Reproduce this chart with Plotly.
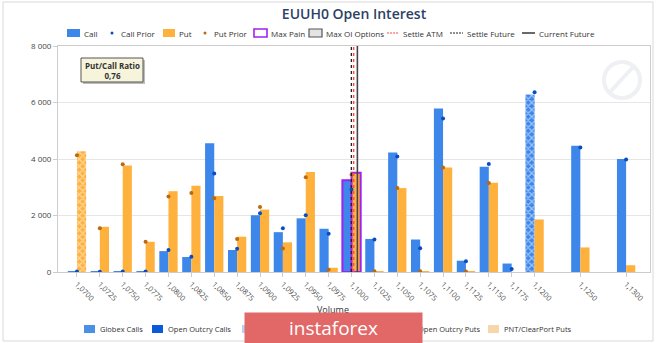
import plotly.graph_objects as go

# ---- data -------------------------------------------------------------
strikes = [1.0700, 1.0725, 1.0750, 1.0775, 1.0800, 1.0825, 1.0850, 1.0875,
           1.0900, 1.0925, 1.0950, 1.0975, 1.1000, 1.1025, 1.1050, 1.1075,
           1.1100, 1.1125, 1.1150, 1.1175, 1.1200, 1.1250, 1.1300]
strike_labels = ["1,0700", "1,0725", "1,0750", "1,0775", "1,0800", "1,0825",
                 "1,0850", "1,0875", "1,0900", "1,0925", "1,0950", "1,0975",
                 "1,1000", "1,1025", "1,1050", "1,1075", "1,1100", "1,1125",
                 "1,1150", "1,1175", "1,1200", "1,1250", "1,1300"]

call_oi = [30, 15, 20, 25, 740, 530, 4560, 780, 2010, 1410, 1900, 1530,
           3250, 1170, 4230, 1150, 5790, 400, 3730, 300, 6280, 4470, 4000]
call_prior = [20, 10, 15, 20, 775, 540, 3490, 820, 2080, 1550, 2010, 1350,
              2920, 1150, 4090, 840, 5430, 380, 3820, 110, 6360, 4410, 3980]
put_oi = [4270, 1600, 3770, 1070, 2860, 3050, 2690, 1250, 2210, 1050, 3540,
          150, 3510, 35, 2970, 35, 3700, 25, 3160, 0, 1860, 870, 240]
put_prior = [4130, 1550, 3810, 1070, 2670, 2800, 2610, 1170, 2300, 835, 3350,
             80, 3440, 25, 2970, 30, 3700, 20, 3150, None, None, None, None]

max_pain = 1.1000
settle_atm = 1.10023
settle_future = 1.09998
current_future = 1.10064
put_call_ratio = "0,76"

y_ticks = [0, 2000, 4000, 6000, 8000]
y_tick_labels = ["0", "2 000", "4 000", "6 000", "8 000"]

# ---- styles -----------------------------------------------------------
CALL = "#3d87ea"
PUT = "#ffb13d"
CALL_DOT = "#0a4cc2"
PUT_DOT = "#b86a10"
PURPLE = "#a020f0"
FONT = "Open Sans"
TXT = "#333333"

max_call = max(call_oi)
max_put = max(put_oi)


def pattern_for(values, top):
    return [("x" if v == top else "") for v in values]


def outline_color(xs):
    return [PURPLE if x == max_pain else "rgba(0,0,0,0)" for x in xs]


def outline_width(xs):
    return [2 if x == max_pain else 0 for x in xs]


fig = go.Figure()
fig.add_trace(go.Bar(
    x=strikes, y=call_oi, name="Call", offsetgroup="c",
    marker=dict(color=CALL,
                line=dict(color=outline_color(strikes), width=outline_width(strikes)),
                pattern=dict(shape=pattern_for(call_oi, max_call), fgcolor="white",
                             bgcolor=CALL, size=5, solidity=0.45)),
))
fig.add_trace(go.Bar(
    x=strikes, y=put_oi, name="Put", offsetgroup="p",
    marker=dict(color=PUT,
                line=dict(color=outline_color(strikes), width=outline_width(strikes)),
                pattern=dict(shape=pattern_for(put_oi, max_put), fgcolor="white",
                             bgcolor=PUT, size=5, solidity=0.45)),
))
fig.add_trace(go.Scatter(
    x=strikes, y=call_prior, mode="markers", name="Call Prior",
    marker=dict(color=CALL_DOT, size=4),
))
fig.add_trace(go.Scatter(
    x=strikes, y=put_prior, mode="markers", name="Put Prior",
    marker=dict(color=PUT_DOT, size=4),
))

# plot area in pixels
W, H = 665, 343
L, R, T, B = 58, 650, 46, 272


def px(x):
    return (x - L) / (R - L)


def py(y):
    return (B - y) / (B - T)


shapes = []
annotations = []

# vertical reference lines
for xv, col, dash, wid in [(settle_future, "#222222", "dot", 1.3),
                           (settle_atm, "#ff4a4a", "dot", 1.5),
                           (current_future, "#444444", "solid", 1.6)]:
    shapes.append(dict(type="line", xref="x", yref="paper", x0=xv, x1=xv,
                       y0=0, y1=1, line=dict(color=col, dash=dash, width=wid),
                       layer="above"))


def rect(x0, y0, x1, y1, fill, line_col=None, lw=0):
    shapes.append(dict(type="rect", xref="paper", yref="paper",
                       x0=px(x0), x1=px(x1), y0=py(y1), y1=py(y0),
                       fillcolor=fill,
                       line=dict(color=line_col or fill, width=lw)))


def label(x, y, text, size=8, color=TXT, anchor="left", **kw):
    annotations.append(dict(xref="paper", yref="paper", x=px(x), y=py(y),
                            text=text, showarrow=False, xanchor=anchor,
                            yanchor="middle", font=dict(family=FONT, size=size,
                                                        color=color), **kw))


def hline(x0, x1, y, col, dash, wid):
    shapes.append(dict(type="line", xref="paper", yref="paper",
                       x0=px(x0), x1=px(x1), y0=py(y), y1=py(y),
                       line=dict(color=col, dash=dash, width=wid)))


def dot(x, y, col):
    shapes.append(dict(type="circle", xref="paper", yref="paper",
                       x0=px(x - 1.5), x1=px(x + 1.5), y0=py(y + 1.5),
                       y1=py(y - 1.5), fillcolor=col, line=dict(width=0)))


# outer frame
rect(3, 2, 653, 341, "rgba(0,0,0,0)", "#d9d9d9", 1)

# faint watermark emblem in the corner
shapes.append(dict(type="circle", xref="paper", yref="paper",
                   x0=px(604), x1=px(640), y0=py(98), y1=py(62),
                   line=dict(color="#eef0f3", width=4)))
shapes.append(dict(type="line", xref="paper", yref="paper",
                   x0=px(610), x1=px(634), y0=py(92), y1=py(66),
                   line=dict(color="#eef0f3", width=4)))

# top legend
ly = 33
rect(67, ly - 4, 80, ly + 4, CALL)
label(82, ly, "Call")
dot(112, ly, CALL_DOT)
label(119, ly, "Call Prior")
rect(163, ly - 4, 175, ly + 4, PUT)
label(177, ly, "Put")
dot(205, ly, PUT_DOT)
label(212, ly, "Put Prior")
rect(254, ly - 4, 267, ly + 4, "white", PURPLE, 1.6)
label(269, ly, "Max Pain")
rect(309, ly - 4, 322, ly + 4, "#e4e4e4", "#555555", 1.2)
label(324, ly, "Max OI Options")
hline(387, 399, ly, "#ff4a4a", "2px,1px", 1.2)
label(401, ly, "Settle ATM")
hline(450, 463, ly, "#222222", "2px,1px", 1.2)
label(465, ly, "Settle Future")
hline(522, 535, ly, "#444444", "solid", 1.6)
label(537, ly, "Current Future")

# put/call ratio box
rect(83, 60, 145, 84, "#bdbdbd")
rect(81, 58, 143, 82, "#f6f4da", "#555555", 1)
label(112, 70, "<b>Put/Call Ratio</b><br><b>" + put_call_ratio + "</b>", size=8,
      anchor="center", align="center")

# x axis title
label(333, 309, "Volume", size=9, anchor="center")

# bottom legend (volume sources); the middle entries sit under the plate
by = 329
for x0, col, txt in [(84, "#4a90e6", "Globex Calls"),
                     (152, "#0b5ad9", "Open Outcry Calls"),
                     (242, "#b9d3f4", None),
                     (336, "#ffb13d", None),
                     (402, "#f29a1c", "Open Outcry Puts"),
                     (488, "#f7d6aa", "PNT/ClearPort Puts")]:
    rect(x0, by - 4, x0 + 11, by + 4, col)
    if txt:
        label(x0 + 14, by, txt, size=7.5)

# brand plate, drawn as the last annotation so it sits on top
annotations.append(dict(xref="paper", yref="paper", x=px(333.5), y=py(328),
                        xanchor="center", yanchor="middle", showarrow=False,
                        text="instaforex", width=177, height=30, borderpad=0,
                        bgcolor="#e26868", valign="middle",
                        font=dict(family=FONT, size=19, color="white")))

fig.update_layout(
    width=W, height=H,
    margin=dict(l=L, r=W - R, t=T, b=H - B),
    paper_bgcolor="white", plot_bgcolor="white",
    barmode="group", bargap=0.2, bargroupgap=0,
    showlegend=False,
    title=dict(text="EUUH0 Open Interest", x=0.5, xref="paper", y=0.96,
               yanchor="middle",
               font=dict(family=FONT, size=14, color="#2c3f66", weight=600)),
    shapes=shapes, annotations=annotations,
    xaxis=dict(range=[1.06793, 1.13261], tickvals=strikes, ticktext=strike_labels,
               tickangle=45, tickfont=dict(family=FONT, size=7.5, color="#444"),
               showgrid=False, showline=True, linecolor="#cccccc", mirror=True,
               ticks="outside", ticklen=4, tickcolor="#cccccc", zeroline=False),
    yaxis=dict(range=[0, 8000], tickvals=y_ticks, ticktext=y_tick_labels,
               tickfont=dict(family=FONT, size=8, color="#444"),
               gridcolor="#e6e6e6", showline=True, linecolor="#cccccc",
               mirror=True, ticks="outside", ticklen=4, tickcolor="#cccccc",
               zeroline=False),
)

fig.write_html("out.html")
